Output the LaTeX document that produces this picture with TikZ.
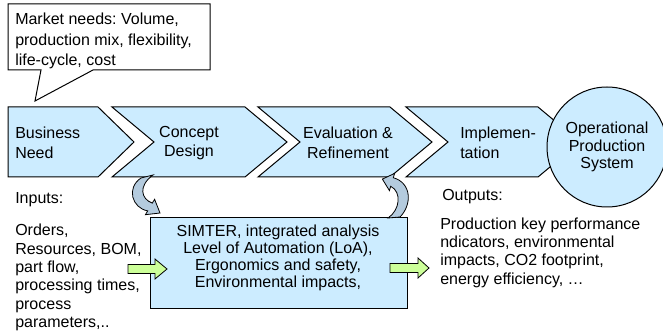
\documentclass[tikz,border=0pt]{standalone}
\usepackage{fontspec}
\setmainfont{Liberation Sans}
\frenchspacing
\definecolor{stagefill}{HTML}{CCECFF}
\definecolor{bandfill}{HTML}{B4CBDE}
\definecolor{feedfill}{HTML}{CCFF99}
\begin{document}
\begin{tikzpicture}[x=0.75pt, y=-0.75pt,
    stage/.style={draw=black, fill=stagefill, line width=0.75pt},
    band/.style={draw=black, fill=bandfill, line width=0.6pt},
    feed/.style={draw=black, fill=feedfill, line width=0.6pt},
    txt/.style={inner sep=0pt, font=\fontsize{12}{14}\selectfont}]

    \useasboundingbox (0,0) rectangle (663,334);

    % Callout
    \filldraw[fill=white, line width=0.75pt] (8,4) -- (210,4) -- (210,70) -- (93,70)
      -- (35,101) -- (41,70) -- (8,70) -- cycle;
    \node[txt, align=left, anchor=west, font=\fontsize{12}{15.5}\selectfont] (needs) at (15,41)
      {Market needs: Volume,\\production mix, flexibility,\\life-cycle, cost};

    % Chevrons
    \filldraw[stage] (8,107) -- (98,107) -- (134,142) -- (98,177) -- (8,177) -- cycle;
    \filldraw[stage] (112,107) -- (245,107) -- (287,142) -- (245,177) -- (112,177) -- (154,142) -- cycle;
    \filldraw[stage] (258,107) -- (390,107) -- (432,142) -- (390,177) -- (258,177) -- (300,142) -- cycle;
    \filldraw[stage] (406,107) -- (538,107) -- (580,142) -- (538,177) -- (406,177) -- (448,142) -- cycle;

    \node[txt, align=left, anchor=west, font=\fontsize{12}{14.6}\selectfont] (business) at (15,143) {Business\\Need};
    \node[txt, align=center, font=\fontsize{12}{14.6}\selectfont] (concept) at (189,143) {Concept\\Design};
    \node[txt, align=center, font=\fontsize{12}{14.6}\selectfont] (evaluation) at (348,143) {Evaluation \&\\Refinement};
    \node[txt, align=left, anchor=west, font=\fontsize{12}{14.6}\selectfont] (implementation) at (460,143) {Implemen-\\tation};

    % Circulo final
    \node[stage, circle, minimum size=90pt, inner sep=0pt, align=center,
      font=\fontsize{12}{13.1}\selectfont] (operational) at (607,147)
      {Operational\\Production\\System};

    % Caja de analisis
    \node[stage, minimum width=192.75pt, minimum height=68.25pt, anchor=north west] (simter) at (150,217) {};
    \node[txt, align=center, font=\fontsize{12}{12.8}\selectfont] (analysis) at (278,257.5)
      {SIMTER, integrated analysis\\Level of Automation (LoA),\\Ergonomics and safety,\\Environmental impacts,};

    % Entradas y salidas
    \node[txt, anchor=west] (inputs) at (15,200) {Inputs:};
    \node[txt, align=left, anchor=west, font=\fontsize{12}{13.7}\selectfont] (inlist) at (15,277.5)
      {Orders,\\Resources, BOM,\\part flow,\\processing times,\\process\\parameters,..};
    \node[txt, anchor=west] (outputs) at (442,197) {Outputs:};
    \node[txt, align=left, anchor=west, font=\fontsize{12}{13.7}\selectfont] (outlist) at (440,252.5)
      {Production key performance\\ndicators, environmental\\impacts, CO2 footprint,\\energy efficiency, …};

    % Flechas verdes
    \filldraw[feed] (128,264.5) -- (155,264.5) -- (155,259) -- (167,269) -- (155,279)
      -- (155,273.5) -- (128,273.5) -- cycle;
    \filldraw[feed] (390,263.5) -- (418,263.5) -- (418,258) -- (429,268) -- (418,278)
      -- (418,272.5) -- (390,272.5) -- cycle;

    % Flechas curvas
    \filldraw[band] (141,178) .. controls (126,188) and (132,208) .. (147.7,210.9)
      -- (145.4,214.7) -- (160,213) -- (154.6,199.3) -- (152.3,203.1)
      .. controls (141,199) and (138,186) .. (153,175) -- cycle;
    \filldraw[band] (388,218) .. controls (400,210) and (402,192) .. (390.7,186.3)
      -- (389.4,190.6) -- (382.4,179.1) -- (394.6,173.4) -- (393.3,177.7)
      .. controls (412,183) and (412,205) .. (400,217) -- cycle;

\end{tikzpicture}
\end{document}
